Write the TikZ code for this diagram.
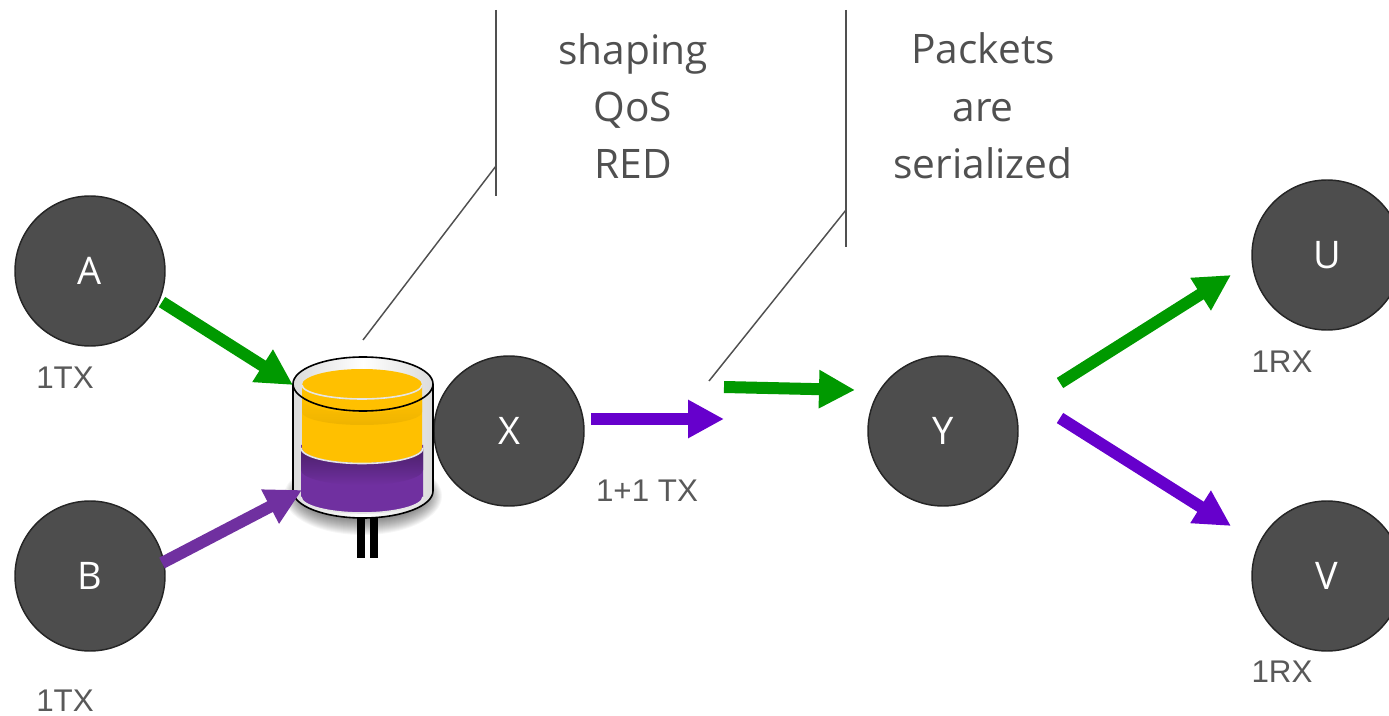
\documentclass[tikz,border=0pt]{standalone}
\usepackage{fontspec}
\setmainfont{Open Sans}
\newfontfamily\labfont{Liberation Sans}
\usetikzlibrary{arrows.meta}
\definecolor{nodegray}{HTML}{4D4D4D}
\definecolor{txtgray}{HTML}{595959}
\definecolor{leadgray}{HTML}{505050}
\definecolor{mygreen}{HTML}{009900}
\definecolor{myviolet}{HTML}{6600CC}
\definecolor{mypurple}{HTML}{7030A0}
\definecolor{myyellow}{HTML}{FFC000}
\tikzset{
  x=0.75pt,y=-0.75pt,
  peer/.style={circle,draw=black!85,fill=nodegray,line width=1.1pt,minimum size=112.5pt,inner sep=0pt,text=white,font=\fontsize{28.5}{30}\selectfont},
  flow/.style={line width=9pt,-{Triangle[length=27pt,width=27pt]}},
  rate/.style={font=\labfont\fontsize{23.5}{26}\selectfont,text=txtgray,inner sep=0pt},
  note/.style={font=\fontsize{30.5}{43}\selectfont,text=leadgray,align=center,inner sep=0pt},
  leader/.style={draw=leadgray,line width=1.1pt},
}
\begin{document}
\begin{tikzpicture}
\useasboundingbox (0,0) rectangle (1389,716);
\clip (0,0) rectangle (1389,716);
% leaders
\coordinate (l1t) at (496,10); \coordinate (l1b) at (496,196); \coordinate (l1m) at (496,166); \coordinate (l1e) at (363,340);
\coordinate (l2t) at (846,10); \coordinate (l2b) at (846,247); \coordinate (l2m) at (846,210); \coordinate (l2e) at (709,381);
\draw[leader] (l1t) -- (l1b);
\draw[leader] (l1m) -- (l1e);
\draw[leader] (l2t) -- (l2b);
\draw[leader] (l2m) -- (l2e);
% peers
\node[peer] (A) at (90,271) {A};
\node[peer] (B) at (90,576) {B};
\node[peer] (X) at (509,431) {X};
\node[peer] (Y) at (943,431) {Y};
\node[peer] (U) at (1327,255) {U};
\node[peer] (V) at (1327,576) {V};
% queue shadow
\foreach \g in {0,...,15}{
  \fill[black,opacity=.035] (363,496) ellipse[x radius=64+\g,y radius=24+\g];
}
% legs
\fill[black] (357,515) rectangle (364.5,558);
\fill[black] (370,515) rectangle (377.5,558);
% glass
\path[left color=black!14,right color=black!14,middle color=white]
  (293,384) -- (293,491) arc[start angle=180,end angle=0,x radius=70,y radius=27] -- (433,384)
  arc[start angle=0,end angle=-180,x radius=70,y radius=27] -- cycle;
% purple level
\fill[mypurple] (301,445) -- (301,497) arc[start angle=180,end angle=0,x radius=61,y radius=16] -- (423,445) -- cycle;
\shade[top color=mypurple!65!black,bottom color=mypurple] (301,448) arc[start angle=180,end angle=0,x radius=61,y radius=15] -- (423,470)
  arc[start angle=0,end angle=180,x radius=61,y radius=15] -- cycle;
% yellow level
\fill[myyellow] (302,385) -- (302,448) arc[start angle=180,end angle=0,x radius=60,y radius=15] -- (422,385) arc[start angle=0,end angle=-180,x radius=60,y radius=16] -- cycle;
\shade[top color=myyellow,bottom color=black!8!myyellow,opacity=.8] (302,399) -- (302,412) arc[start angle=180,end angle=0,x radius=60,y radius=13] -- (422,399) arc[start angle=0,end angle=180,x radius=60,y radius=14]  -- cycle;
\draw[black!10,line width=1.2pt] (301,448) arc[start angle=180,end angle=0,x radius=61,y radius=15.5];
\draw[black!10,line width=1.2pt] (302,385) arc[start angle=180,end angle=0,x radius=60,y radius=14];
\draw[black!10,line width=1.2pt] (301,497) arc[start angle=180,end angle=0,x radius=61,y radius=16];
% outline
\draw[black,line width=1.2pt] (293,384) -- (293,491) arc[start angle=180,end angle=0,x radius=70,y radius=27] -- (433,384);
\draw[black,line width=1.2pt] (363,384) ellipse[x radius=70,y radius=27];
% flows
\coordinate (a1) at (293,385);
\coordinate (b1) at (302,490);
\coordinate (x1) at (724,419);
\coordinate (g0) at (724,387);
\coordinate (y0) at (855,390);
\coordinate (ys) at (1060,383);
\coordinate (yt) at (1060,418);
\coordinate (u1) at (1231,275);
\coordinate (v1) at (1231,526);
\coordinate (a0) at (162,302);
\coordinate (b0) at (162,563);
\coordinate (x0) at (591,419);
\draw[flow,mygreen] (a0) -- (a1);
\draw[flow,mypurple] (b0) -- (b1);
\draw[flow,myviolet] (x0) -- (x1);
\draw[flow,mygreen] (g0) -- (y0);
\draw[flow,mygreen] (ys) -- (u1);
\draw[flow,myviolet] (yt) -- (v1);
% labels
\node[rate] (ta) at (65,378) {1TX};
\node[rate] (tb) at (65,701) {1TX};
\node[rate] (tx) at (647,491) {1+1 TX};
\node[rate] (ru) at (1282,362) {1RX};
\node[rate] (rv) at (1282,672) {1RX};
\node[note] (n1) at (633,106) {shaping\\QoS\\RED};
\node[note] (n2) at (983,106) {Packets\\are\\serialized};
\end{tikzpicture}
\end{document}
